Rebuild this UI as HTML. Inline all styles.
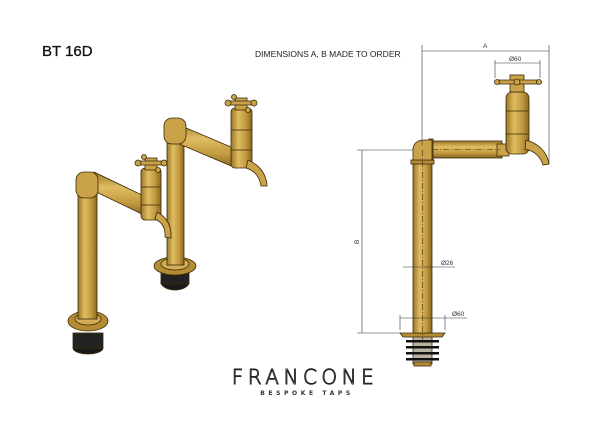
<!DOCTYPE html>
<html><head><meta charset="utf-8"><style>
html,body{margin:0;padding:0;background:#fff;width:600px;height:424px;overflow:hidden}
svg{display:block}
</style></head><body>
<svg width="600" height="424" viewBox="0 0 600 424" xmlns="http://www.w3.org/2000/svg">
<defs>
<linearGradient id="gv" x1="0" x2="1" y1="0" y2="0">
<stop offset="0" stop-color="#9a7526"/><stop offset="0.35" stop-color="#e0bd62"/><stop offset="0.7" stop-color="#c29a40"/><stop offset="1" stop-color="#8a6620"/></linearGradient>
<linearGradient id="gh" x1="0" x2="0" y1="0" y2="1">
<stop offset="0" stop-color="#9a7526"/><stop offset="0.35" stop-color="#e0bd62"/><stop offset="0.7" stop-color="#c29a40"/><stop offset="1" stop-color="#8a6620"/></linearGradient>
</defs>
<text x="42" y="56" font-family="Liberation Sans, sans-serif" font-size="15" fill="#111" stroke="#111" stroke-width="0.3">BT 16D</text>
<text x="255" y="57" font-family="Liberation Sans, sans-serif" font-size="8.5" fill="#222">DIMENSIONS A, B MADE TO ORDER</text>

<!-- LEFT ISO: back tap -->
<g stroke="#3a2a08" stroke-width="0.8">
<ellipse cx="175" cy="282" rx="14" ry="8" fill="#1a1a1a"/>
<rect x="161" y="270" width="28" height="14" fill="#222"/>
<ellipse cx="175" cy="266" rx="21" ry="9" fill="#b58c35"/>
<ellipse cx="175" cy="264" rx="14" ry="6" fill="#d2ad55"/>
<rect x="167" y="140" width="17" height="125" fill="url(#gv)"/>
<polygon points="172,122 238,150 236,168 170,140" fill="url(#gh)"/>
<rect x="164" y="118" width="22" height="26" rx="8" fill="#c9a24a"/>
<rect x="231" y="108" width="21" height="60" rx="4" fill="url(#gv)"/>
<line x1="231" y1="130" x2="252" y2="130"/><line x1="231" y1="150" x2="252" y2="150"/>
<path d="M248,160 Q266,168 267,186 L261,186 Q259,172 246,168 Z" fill="#c9a24a"/>
<rect x="235" y="98" width="12" height="12" fill="#c9a24a"/>
<rect x="226" y="101" width="30" height="4" rx="2" fill="#c9a24a"/>
<circle cx="228" cy="103" r="3" fill="#c9a24a"/><circle cx="254" cy="103" r="3" fill="#c9a24a"/>
<circle cx="234" cy="97" r="2.5" fill="#c9a24a"/><circle cx="248" cy="110" r="2.5" fill="#c9a24a"/>
</g>
<!-- LEFT ISO: front tap -->
<g stroke="#3a2a08" stroke-width="0.8">
<ellipse cx="88" cy="348" rx="15" ry="6" fill="#1a1a1a"/>
<rect x="73" y="333" width="30" height="15" fill="#222"/>
<ellipse cx="88" cy="321" rx="20" ry="10" fill="#b58c35"/>
<ellipse cx="88" cy="319" rx="13" ry="6" fill="#d2ad55"/>
<rect x="78" y="187" width="19" height="132" fill="url(#gv)"/>
<polygon points="94,172 148,198 146,216 92,190" fill="url(#gh)"/>
<rect x="76" y="172" width="22" height="26" rx="8" fill="#c9a24a"/>
<rect x="141" y="168" width="20" height="52" rx="4" fill="url(#gv)"/>
<line x1="141" y1="187" x2="161" y2="187"/><line x1="141" y1="205" x2="161" y2="205"/>
<path d="M157,212 Q172,220 171,238 L165,237 Q166,224 155,219 Z" fill="#c9a24a"/>
<rect x="145" y="158" width="12" height="12" fill="#c9a24a"/>
<rect x="136" y="161" width="30" height="4" rx="2" fill="#c9a24a"/>
<circle cx="138" cy="163" r="3" fill="#c9a24a"/><circle cx="164" cy="163" r="3" fill="#c9a24a"/>
<circle cx="144" cy="157" r="2.5" fill="#c9a24a"/><circle cx="158" cy="170" r="2.5" fill="#c9a24a"/>
</g>

<!-- RIGHT ORTHO -->
<g stroke="#3a2a08" stroke-width="0.8">
<rect x="413" y="336" width="19" height="28" fill="#b9b2a2"/>
<g fill="#111" stroke="none">
<rect x="406" y="340" width="33" height="2.5"/><rect x="406" y="346" width="33" height="2.5"/><rect x="406" y="352" width="33" height="2.5"/><rect x="406" y="358" width="33" height="2.5"/></g>
<rect x="414" y="362" width="17" height="4" fill="#b58c35"/>
<polygon points="400,333 445,333 442,337 403,337" fill="#b58c35"/>
<rect x="413" y="160" width="19" height="173" fill="url(#gv)"/>
<rect x="411" y="160" width="23" height="4" fill="#b58c35"/>
<rect x="430" y="141" width="72" height="17" fill="url(#gh)"/>
<rect x="429" y="139" width="4" height="21" fill="#b58c35"/>
<path d="M413,160 L413,148 Q415,140 424,140 L432,140 L432,160 Z" fill="#c9a24a"/>
<rect x="497" y="144" width="12" height="12" fill="#c9a24a"/>
<rect x="506" y="92" width="23" height="62" rx="6" fill="url(#gv)"/>
<line x1="506" y1="111" x2="529" y2="111"/><line x1="506" y1="134" x2="529" y2="134"/>
<path d="M526,140 Q546,146 549,164 L543,165 Q539,152 525,149 Z" fill="#c9a24a"/>
<rect x="510" y="75" width="14" height="17" fill="#c9a24a"/>
<rect x="497" y="80" width="42" height="4" rx="2" fill="#c9a24a"/>
<circle cx="497" cy="82" r="2.5" fill="#c9a24a"/><circle cx="539" cy="82" r="2.5" fill="#c9a24a"/>
<circle cx="517" cy="82" r="3" fill="#c9a24a"/>
</g>
<g stroke="#3a2a08" stroke-width="0.6" stroke-dasharray="6,2,1,2">
<line x1="422.5" y1="150" x2="422.5" y2="345"/><line x1="432" y1="149.5" x2="500" y2="149.5"/>
</g>
<g stroke="#333" stroke-width="0.6" fill="none">
<line x1="422" y1="45" x2="422" y2="145"/><line x1="549" y1="45" x2="549" y2="163"/>
<line x1="422" y1="51" x2="549" y2="51"/>
<line x1="495" y1="60" x2="495" y2="78"/><line x1="540" y1="60" x2="540" y2="78"/>
<line x1="495" y1="63" x2="540" y2="63"/>
<line x1="357" y1="150" x2="413" y2="150"/><line x1="357" y1="333" x2="400" y2="333"/>
<line x1="362" y1="150" x2="362" y2="333"/>
<line x1="403" y1="267" x2="455" y2="267"/>
<line x1="400" y1="315" x2="400" y2="330"/><line x1="445" y1="315" x2="445" y2="330"/>
<line x1="400" y1="318" x2="467" y2="318"/>
</g>
<g font-family="Liberation Sans, sans-serif" font-size="6.5" fill="#333">
<text x="483" y="48">A</text>
<text x="509" y="61">Ø60</text>
<text x="441" y="265">Ø26</text>
<text x="452" y="316">Ø60</text>
<text transform="translate(359,244) rotate(-90)">B</text>
</g>
<text x="305" y="384" text-anchor="middle" font-family="DejaVu Sans, sans-serif" font-size="20" font-weight="200" letter-spacing="4.5" fill="none" stroke="#222" stroke-width="0.9">FRANCONE</text>
<text x="307" y="395" text-anchor="middle" font-family="DejaVu Sans, sans-serif" font-size="6" font-weight="bold" letter-spacing="3.6" fill="#333">BESPOKE TAPS</text>
</svg>
</body></html>
